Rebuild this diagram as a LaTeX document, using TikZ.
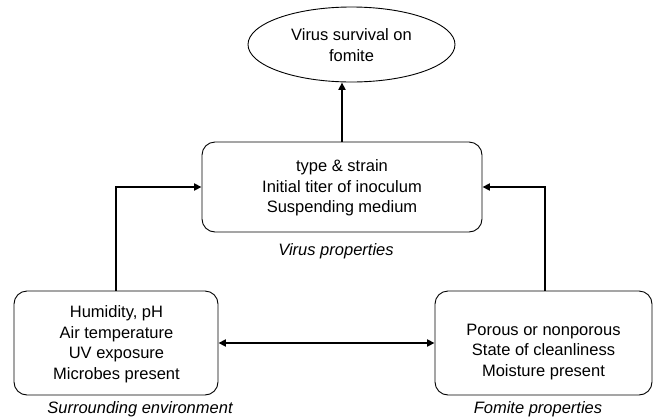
\documentclass[tikz,border=0pt]{standalone}
\usepackage{fontspec}
\setmainfont{Liberation Sans}
\usetikzlibrary{shapes.geometric,arrows.meta}
\begin{document}
\begin{tikzpicture}[x=1pt,y=-1pt,
  txt/.style={font=\fontsize{16.5}{20.5}\selectfont, align=center, text=black, inner sep=0pt},
  captxt/.style={font=\fontsize{16.5}{20}\selectfont\itshape, text=black, inner sep=0pt},
  boxstyle/.style={draw=black, line width=0.9pt, rounded corners=13pt, inner sep=0pt},
  conn/.style={line width=2pt, -{Triangle[length=7.5pt,width=7pt]}},
  dconn/.style={line width=2pt, {Triangle[length=7.5pt,width=7pt]}-{Triangle[length=7.5pt,width=7pt]}}
]
\useasboundingbox (0,0) rectangle (654,416);
% shapes
\node[ellipse, draw=black, line width=0.9pt, minimum width=207pt, minimum height=75pt, inner sep=0pt] (ell) at (351.5,44.5) {};
\node[boxstyle, minimum width=280pt, minimum height=90pt] (top) at (342,187) {};
\node[boxstyle, minimum width=204pt, minimum height=104pt] (left) at (116,343) {};
\node[boxstyle, minimum width=217pt, minimum height=104pt] (right) at (543.5,343) {};
% texts
\node[txt] (elltxt) at (351.5,45) {Virus survival on\\fomite};
\node[txt] (toptxt) at (342,188) {type \& strain\\Initial titer of inoculum\\Suspending medium};
\node[txt] (lefttxt) at (116.5,344) {Humidity, pH\\Air temperature\\UV exposure\\Microbes present};
\node[txt] (righttxt) at (543.5,352) {Porous or nonporous\\State of cleanliness\\Moisture present};
\node[captxt] (topcap) at (336,251) {Virus properties};
\node[captxt] (leftcap) at (140,409) {Surrounding environment};
\node[captxt] (rightcap) at (538,409) {Fomite properties};
% connectors
\draw[conn] (top.north) -- (top.north |- ell.south);
\draw[conn] (left.north) |- (top.west);
\draw[conn] ([xshift=1.5pt]right.north) |- (top.east);
\draw[dconn] (left.east) -- (right.west);
\end{tikzpicture}
\end{document}
